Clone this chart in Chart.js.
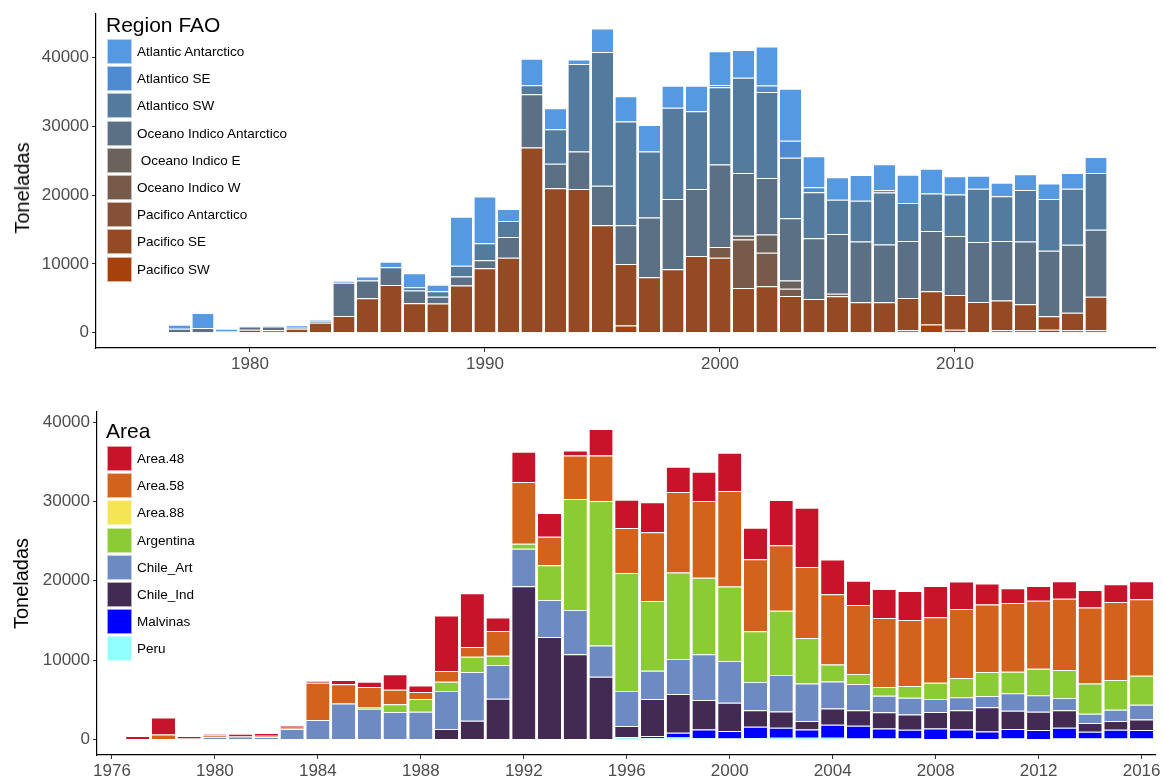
<!DOCTYPE html>
<html>
<head>
<meta charset="utf-8">
<script src="https://cdn.jsdelivr.net/npm/chart.js@4"></script>
<style>
  body { margin: 0; background: #fff; width: 1164px; height: 781px; position: relative; overflow: hidden;
         font-family: "Liberation Sans", Arial, sans-serif; }
  .box { position: absolute; left: 0; width: 1164px; }
  .ttl { position: absolute; left: 106px; font-size: 21px; line-height: 21px; color: #000; }
  .rows { position: absolute; left: 107px; }
  .row { display: flex; align-items: center; height: 27.2px; }
  .sw { width: 25px; height: 25px; box-sizing: border-box; border: 1px solid rgba(255,255,255,0.6); }
  .lab { margin-left: 5px; font-size: 13.5px; color: #000; white-space: pre; }
  .ytitle { position: absolute; left: 22px; font-size: 20px; line-height: 24px; color: #000;
            transform: translate(-50%, -50%) rotate(-90deg); white-space: nowrap; }
</style>
</head>
<body>
<div class="box" style="top:0;height:390px"><canvas id="topChart" width="1164" height="390"></canvas></div>
<div class="box" style="top:390px;height:391px"><canvas id="bottomChart" width="1164" height="391"></canvas></div>
<div class="ytitle" style="top:188px">Toneladas</div>
<div class="ttl" style="top:14px">Region FAO</div>
<div class="rows" id="topLegend" style="top:38px"></div>
<div class="ttl" style="top:420px">Area</div>
<div class="rows" id="bottomLegend" style="top:445px"></div>

<script>
const FONT = '"Liberation Sans", Arial, sans-serif';

/* -------------------------------
   DATA (toneladas, 1977-2016)
--------------------------------*/
const years = [1977,1978,1979,1980,1981,1982,1983,1984,1985,1986,
               1987,1988,1989,1990,1991,1992,1993,1994,1995,1996,
               1997,1998,1999,2000,2001,2002,2003,2004,2005,2006,
               2007,2008,2009,2010,2011,2012,2013,2014,2015,2016];

// top panel: Region FAO
const pacificoSW = [0,0,0,0,0,0,0,0,0,0, 0,0,0,0,0,0,0,0,0,1070,
                    0,0,0,0,0,0,0,0,0,0, 0,360,1210,450,0,360,360,450,360,360];
const pacificoSE = [0,0,210,450,360,590,1450,2440,5000,6940, 4290,4240,6850,9360,10880,26900,20980,20880,15620,8910,
                    8080,9220,11160,10880,6520,6750,5330,4910,5290,4430, 4430,4690,4830,5020,4480,4310,3790,1940,2560,4880];
const pacificoAntarctico = [0,0,0,0,0,0,0,0,0,0, 0,0,0,0,0,0,0,0,0,0,
                            0,0,0,0,0,0,0,0,0,0, 0,0,0,0,0,0,0,0,0,0];
const oceanoIndicoW = [0,0,0,0,0,0,0,0,0,0, 0,0,0,0,0,0,0,0,0,0,
                       0,0,0,1560,7010,4890,1050,0,380,0, 0,0,0,0,0,0,0,0,0,0];
const oceanoIndicoE = [0,0,0,0,0,0,0,0,0,0, 0,0,0,0,0,0,0,0,0,0,
                       0,0,0,0,570,2650,1230,0,0,0, 0,0,0,0,0,0,0,0,0,0];
const oceanoIndicoAntarctico = [590,690,0,450,560,150,280,4840,2610,2560, 1850,1000,1330,1190,3030,7730,3550,5450,5730,5640,
                                8670,10190,9720,12000,9100,8200,9010,8810,8670,8820, 8390,8290,8730,8590,8720,8670,9100,9530,9850,9720];
const atlanticoSW = [0,0,0,0,0,0,0,0,0,0, 470,800,1560,2460,2320,1320,5020,12710,19440,15070,
                     9580,13270,11280,11230,13850,12470,8810,6690,4980,5930, 7540,5500,5450,6010,7730,6500,7490,7490,8160,8240];
const atlanticoSE = [0,0,0,0,0,0,0,0,0,0, 0,0,0,0,0,0,0,0,0,0,
                     0,0,0,330,0,950,2470,710,0,0, 380,0,0,0,0,0,0,0,0,0];
const atlanticAntarctico = [570,2180,380,120,150,370,190,280,570,810, 2040,950,7110,6780,1760,3840,3040,660,3410,3650,
                            3840,3180,3700,4880,4020,5680,7530,4500,3270,3740, 3740,4120,3600,2660,1890,1940,2270,2280,2270,2330];

// bottom panel: Area
const peru = [0,0,0,0,0,0,0,0,0,0, 0,0,0,0,0,0,0,0,0,290,
              170,250,170,130,170,210,210,210,130,130, 130,0,130,0,130,0,130,130,130,130];
const malvinas = [0,0,0,0,0,0,0,0,0,0, 0,0,0,0,0,0,0,0,0,0,
                  250,590,1090,920,1430,1260,1050,1640,1600,1260, 1090,1390,1130,1010,1180,1180,1340,840,1090,1050];
const chileInd = [0,0,0,0,0,0,0,0,0,0, 0,0,1300,2350,5130,19290,12900,10720,7900,1390,
                  4670,4870,3700,3570,2060,2060,1050,2060,1930,2020, 1930,2060,2400,3030,2310,2310,2190,1090,1090,1340];
const chileArt = [0,0,120,290,380,290,1300,2440,4540,3870, 3450,3490,4790,6140,4240,4750,4670,5590,3950,4410,
                  3570,4410,5760,5250,3570,4580,4750,3400,3320,2100, 2100,1640,1640,1430,2190,2060,1560,1180,1430,1850];
const argentina = [0,0,0,0,0,0,0,0,0,210, 970,1600,1180,1930,1180,630,4370,14000,18200,14880,
                   8780,10930,9670,9410,6390,8110,5720,2140,1260,1090, 1470,2060,2440,3030,2730,3360,3530,3820,3740,3660];
const area88 = [0,0,0,0,0,0,0,0,0,0, 0,0,0,0,0,0,0,0,0,0,
                0,0,0,0,0,0,0,0,0,0, 0,0,0,0,0,0,0,0,0,0];
const area58 = [0,630,0,200,0,170,170,4710,2400,2520, 1850,880,1340,1220,3110,7780,3610,5460,5720,5670,
                8660,10130,9670,12020,9080,8240,8950,8830,8700,8700, 8320,8240,8700,8490,8660,8570,8990,9580,9830,9620];
const area48 = [420,2140,300,180,330,340,290,250,550,670, 1930,840,7020,6770,1720,3820,2980,630,3360,3570,
                3780,3190,3660,4830,3990,5720,7480,4410,3070,3660, 3660,3950,3450,2650,1850,1850,2190,2190,2230,2270];

const yTicks = [0, 10000, 20000, 30000, 40000];
const xTicksTop = [1980, 1990, 2000, 2010];
const xTicksBottom = [1976,1980,1984,1988,1992,1996,2000,2004,2008,2012,2016];

/* -------------------------------
   SERIES (bottom of stack first)
--------------------------------*/
const topSeries = [
  ["Pacifico SW", pacificoSW, "#a6410c"],
  ["Pacifico SE", pacificoSE, "#944a22"],
  ["Pacifico Antarctico", pacificoAntarctico, "#854f38"],
  ["Oceano Indico W", oceanoIndicoW, "#785a4a"],
  [" Oceano Indico E", oceanoIndicoE, "#6c625c"],
  ["Oceano Indico Antarctico", oceanoIndicoAntarctico, "#5b6f85"],
  ["Atlantico SW", atlanticoSW, "#537b9d"],
  ["Atlantico SE", atlanticoSE, "#4e8bd1"],
  ["Atlantic Antarctico", atlanticAntarctico, "#5599e2"]
];

const bottomSeries = [
  ["Peru", peru, "#8fffff"],
  ["Malvinas", malvinas, "#0000ff"],
  ["Chile_Ind", chileInd, "#432a52"],
  ["Chile_Art", chileArt, "#6d8bc2"],
  ["Argentina", argentina, "#8bcb34"],
  ["Area.88", area88, "#f5e453"],
  ["Area.58", area58, "#d3621c"],
  ["Area.48", area48, "#c9132a"]
];

function toDatasets(series) {
  return series.map(([label, arr, color]) => ({
    label,
    data: arr.map((v, i) => ({ x: years[i], y: v || null })),
    backgroundColor: color,
    borderColor: "rgba(255,255,255,0.7)",
    borderWidth: { top: 1, left: 0, right: 0, bottom: 0 },
    borderSkipped: "start",
    barPercentage: 0.9,
    categoryPercentage: 1.0
  }));
}

function buildLegend(id, series) {
  const el = document.getElementById(id);
  series.slice().reverse().forEach(([label, , color]) => {
    const row = document.createElement("div");
    row.className = "row";
    row.innerHTML = `<div class="sw" style="background:${color}"></div><div class="lab"></div>`;
    row.querySelector(".lab").textContent = label;
    el.appendChild(row);
  });
}

/* -------------------------------
   SCALES
--------------------------------*/
const axisGrid = { display: true, drawOnChartArea: false, drawTicks: true, tickLength: 4,
                   color: "#333", lineWidth: 1, offset: false };
const axisBorder = { display: true, color: "#000", width: 1.2 };

function xScale(min, max, ticks, height) {
  return {
    type: "linear", stacked: true, offset: false, min, max,
    afterBuildTicks: s => { s.ticks = ticks.map(v => ({ value: v })); },
    afterFit: s => { s.height = height; },
    grid: axisGrid, border: axisBorder,
    ticks: { color: "#4d4d4d", font: { size: 17, family: FONT }, padding: 2,
             autoSkip: false, maxRotation: 0, callback: v => String(v) }
  };
}

function yScale(min, max, width, showTitle) {
  return {
    stacked: true, min, max,
    afterBuildTicks: s => { s.ticks = yTicks.map(v => ({ value: v })); },
    afterFit: s => { s.width = width; },
    grid: axisGrid, border: axisBorder,
    ticks: { color: "#4d4d4d", font: { size: 17, family: FONT }, padding: 3, callback: v => String(v) },
    title: { display: showTitle, text: "Toneladas", color: "#000", font: { size: 20, family: FONT }, padding: { top: 10 } }
  };
}

function makeChart(id, series, xs, ys, padding) {
  return new Chart(document.getElementById(id), {
    type: "bar",
    data: { datasets: toDatasets(series) },
    options: {
      responsive: false,
      animation: false,
      devicePixelRatio: 1,
      layout: { padding },
      plugins: { legend: { display: false }, tooltip: { enabled: false } },
      scales: { x: xs, y: ys }
    }
  });
}

/* -------------------------------
   START
--------------------------------*/
buildLegend("topLegend", topSeries);
buildLegend("bottomLegend", bottomSeries);

// top y title is placed as html (slightly below the panel centre, as in the original)
makeChart("topChart", topSeries,
  xScale(1973.45, 2018.51, xTicksTop, 42),
  yScale(-2210, 46410, 96, false),
  { top: 6, right: 9, left: 0, bottom: 0 });

makeChart("bottomChart", bottomSeries,
  xScale(1975.42, 2016.52, xTicksBottom, 26),
  yScale(-1965, 41265, 97, true),
  { top: 22, right: 9, left: 0, bottom: 0 });
</script>
</body>
</html>
